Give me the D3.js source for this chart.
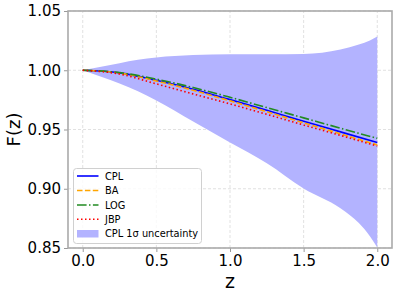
<!DOCTYPE html>
<html>
<head>
<meta charset="utf-8">
<script src="https://cdn.jsdelivr.net/npm/d3@7"></script>
<style>
body { margin: 0; background: white; }
text { font-family: "DejaVu Sans", sans-serif; }
</style>
</head>
<body>
<script>
var width = 397, height = 296;
var margin = {left: 68, right: 5, top: 11, bottom: 48};

var zValues = [0, 0.25, 0.5, 0.75, 1.0, 1.25, 1.5, 1.75, 2.0];
var cpl = [1.0, 0.9978, 0.9915, 0.9840, 0.9752, 0.9662, 0.9570, 0.9480, 0.9390];
var ba  = [1.0, 0.9977, 0.9910, 0.9831, 0.9742, 0.9650, 0.9556, 0.9463, 0.9370];
var log = [1.0, 0.9980, 0.9925, 0.9854, 0.9772, 0.9685, 0.9598, 0.9511, 0.9425];
var jbp = [1.0, 0.9968, 0.9885, 0.9800, 0.9716, 0.9628, 0.9538, 0.9450, 0.9360];

var bandZ = [0, 0.125, 0.25, 0.375, 0.5, 0.75, 1.0, 1.25, 1.5, 1.75, 1.875, 1.95, 2.0];
var bandLow  = [1.0, 0.9946, 0.9888, 0.9822, 0.9745, 0.9568, 0.9390, 0.9215, 0.9002, 0.8835, 0.8710, 0.8600, 0.8505];
var bandHigh = [1.0, 1.0030, 1.0060, 1.0088, 1.0108, 1.0128, 1.0135, 1.0135, 1.0138, 1.0175, 1.0218, 1.0252, 1.0285];

var xTicks = [0.0, 0.5, 1.0, 1.5, 2.0];
var yTicks = [0.85, 0.90, 0.95, 1.00, 1.05];

var series = [
  {name: "CPL", values: cpl, color: "#0000ff", dash: null},
  {name: "BA",  values: ba,  color: "#ffa500", dash: "5.5,2.4"},
  {name: "LOG", values: log, color: "#228b22", dash: "9.6,2.4,1.5,2.4"},
  {name: "JBP", values: jbp, color: "#ff0000", dash: "1.5,2.5"}
];

var svg = d3.select("body").append("svg")
  .attr("width", width)
  .attr("height", height);

var x = d3.scaleLinear().domain([-0.1, 2.1]).range([margin.left, width - margin.right]);
var y = d3.scaleLinear().domain([0.85, 1.05]).range([height - margin.bottom, margin.top]);

// grid
svg.append("g").selectAll("line").data(xTicks).enter().append("line")
  .attr("x1", d => x(d)).attr("x2", d => x(d))
  .attr("y1", y(0.85)).attr("y2", y(1.05))
  .attr("stroke", "#d9d9d9").attr("stroke-width", 0.8).attr("stroke-dasharray", "3,2");
svg.append("g").selectAll("line").data(yTicks).enter().append("line")
  .attr("x1", x(-0.1)).attr("x2", x(2.1))
  .attr("y1", d => y(d)).attr("y2", d => y(d))
  .attr("stroke", "#d9d9d9").attr("stroke-width", 0.8).attr("stroke-dasharray", "3,2");

// band
var bandData = bandZ.map((z, i) => ({z: z, lo: bandLow[i], hi: bandHigh[i]}));
var area = d3.area()
  .x(d => x(d.z))
  .y0(d => y(d.lo))
  .y1(d => y(d.hi))
  .curve(d3.curveMonotoneX);
svg.append("path").datum(bandData)
  .attr("d", area)
  .attr("fill", "#b3b3ff");

// curves
var line = d3.line()
  .x((d, i) => x(zValues[i]))
  .y(d => y(d))
  .curve(d3.curveMonotoneX);
series.forEach(function(s) {
  svg.append("path").datum(s.values)
    .attr("d", line)
    .attr("fill", "none")
    .attr("stroke", s.color)
    .attr("stroke-width", 1.6)
    .attr("stroke-dasharray", s.dash);
});

// axes
var xAxis = d3.axisBottom(x).tickValues(xTicks).tickFormat(d3.format(".1f")).tickSize(4).tickPadding(3);
var yAxis = d3.axisLeft(y).tickValues(yTicks).tickFormat(d3.format(".2f")).tickSize(4).tickPadding(3);

var gx = svg.append("g").attr("transform", "translate(0," + (height - margin.bottom) + ")").call(xAxis);
var gy = svg.append("g").attr("transform", "translate(" + margin.left + ",0)").call(yAxis);
[gx, gy].forEach(function(g) {
  g.select(".domain").remove();
  g.selectAll(".tick line").attr("stroke", "#999");
  g.selectAll(".tick text").attr("font-size", 15).attr("fill", "#000")
    .attr("font-family", "DejaVu Sans, sans-serif");
});

// frame
svg.append("rect")
  .attr("x", x(-0.1)).attr("y", y(1.05))
  .attr("width", x(2.1) - x(-0.1)).attr("height", y(0.85) - y(1.05))
  .attr("fill", "none").attr("stroke", "#aaa").attr("stroke-width", 1.6);

// labels
svg.append("text")
  .attr("x", (x(-0.1) + x(2.1)) / 2).attr("y", 288)
  .attr("text-anchor", "middle").attr("font-size", 19)
  .text("z");
svg.append("text")
  .attr("transform", "translate(20," + y(0.95) + ") rotate(-90)")
  .attr("text-anchor", "middle").attr("font-size", 18)
  .text("F(z)");

// legend
var lg = svg.append("g");
lg.append("rect")
  .attr("x", 73.5).attr("y", 168.5).attr("width", 128).attr("height", 75)
  .attr("rx", 3).attr("fill", "white").attr("fill-opacity", 0.8)
  .attr("stroke", "#d0d0d0").attr("stroke-width", 1);
var rowY = [176, 190.5, 205, 219.3];
series.forEach(function(s, i) {
  lg.append("line")
    .attr("x1", 77).attr("x2", 98.5).attr("y1", rowY[i]).attr("y2", rowY[i])
    .attr("stroke", s.color).attr("stroke-width", 1.6)
    .attr("stroke-dasharray", s.dash);
  lg.append("text")
    .attr("x", 105).attr("y", rowY[i] + 3.6)
    .attr("font-size", 9.8).text(s.name);
});
lg.append("rect")
  .attr("x", 77).attr("y", 230).attr("width", 21.5).attr("height", 7.5)
  .attr("fill", "#b3b3ff");
lg.append("text")
  .attr("x", 105).attr("y", 237.2)
  .attr("font-size", 9.8).text("CPL 1σ uncertainty");
</script>
</body>
</html>
